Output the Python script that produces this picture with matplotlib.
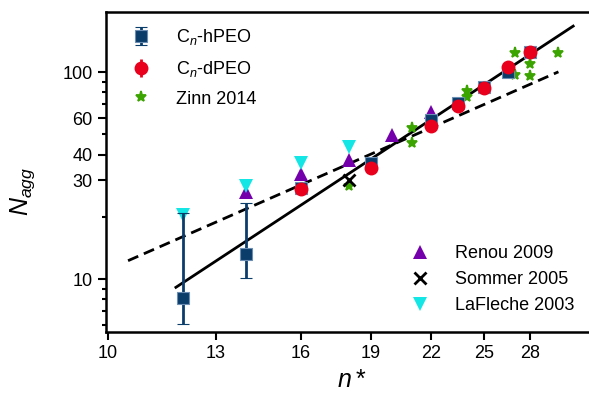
import matplotlib
matplotlib.use("Agg")
import matplotlib.pyplot as plt
import numpy as np

plt.rcParams['font.family'] = ['Liberation Sans', 'DejaVu Sans']
plt.rcParams['mathtext.fontset'] = 'custom'
plt.rcParams['mathtext.rm'] = 'Liberation Sans'
plt.rcParams['mathtext.it'] = 'Liberation Sans:italic'

# C_n-hPEO (this work, hydrogenated)
hpeo_n = [12, 14, 16, 19, 22, 23.5, 25, 26.5, 28]
hpeo_N = [8.1, 13.2, 27.5, 36.3, 58.7, 70.6, 84.9, 100, 125]
hpeo_err_lo = [2.0, 3.0, 0, 0, 0, 0, 0, 0, 0]
hpeo_err_hi = [12.8, 10.2, 0, 0, 0, 0, 0, 0, 0]

# C_n-dPEO (deuterated)
dpeo_n = [16, 19, 22, 23.5, 25, 26.5, 28]
dpeo_N = [27.2, 34.4, 55, 68.5, 83.6, 106, 125]
dpeo_err = [0, 0, 0, 0, 0, 0, 0]

zinn_n = [18, 21, 21, 24, 24, 27, 27, 28, 28, 30]
zinn_N = [28.2, 53.6, 45.6, 81, 76, 123, 96.6, 109, 96, 123]

renou_n = [14, 16, 18, 20, 22]
renou_N = [26.3, 32.1, 37.6, 49.6, 64.3]

sommer_n = [18]
sommer_N = [30.1]

lafleche_n = [12, 14, 16, 18]
lafleche_N = [20.4, 28.2, 36.3, 43.6]

# guide lines (power laws, straight in log-log), end points
solid_n = [11.8, 31.1]
solid_N = [9.15, 166.7]
dashed_n = [10.5, 30]
dashed_N = [12.3, 100.3]

xticks = [10, 13, 16, 19, 22, 25, 28]
yticks = [10, 30, 40, 60, 100]
yminor = [6, 7, 8, 9, 20, 50, 70, 80, 90]

navy = '#0b3d6b'
red = '#e8001c'
green = '#3ca400'
purple = '#7400ab'
cyan = '#14e6e6'

W, H = 589, 399
fig = plt.figure(figsize=(W/100, H/100), dpi=100)
ax = fig.add_axes([106/W, 1-332/H, 491.5/W, 320/H])
ax.set_xscale('log')
ax.set_yscale('log')

ax.plot(solid_n, solid_N, '-', c='k', lw=2, zorder=1)
ax.plot(dashed_n, dashed_N, '--', c='k', lw=2, dashes=(4, 2.2), zorder=1)

h1 = ax.errorbar(hpeo_n, hpeo_N, yerr=[hpeo_err_lo, hpeo_err_hi], fmt='s', c=navy,
                 ms=9, mec='#6a8db3', mew=0.8, capsize=4.5, capthick=2, elinewidth=2,
                 label=r'C$_n$-hPEO', zorder=3)
h2 = ax.errorbar(dpeo_n, dpeo_N, yerr=dpeo_err, fmt='o', c=red, ms=10, mew=0,
                 capsize=4.5, capthick=2, elinewidth=2, label=r'C$_n$-dPEO', zorder=4)
h3, = ax.plot(zinn_n, zinn_N, '*', c=green, ms=8, mew=1.3, mec=green, ls='none',
              label='Zinn 2014', zorder=2.5)
h4, = ax.plot(renou_n, renou_N, '^', c=purple, ms=10, mew=0, ls='none',
              label='Renou 2009', zorder=2.6)
h5, = ax.plot(sommer_n, sommer_N, 'x', c='k', ms=8, mew=2, ls='none',
              label='Sommer 2005', zorder=2.8)
h6, = ax.plot(lafleche_n, lafleche_N, 'v', c=cyan, ms=10, mew=0, ls='none',
              label='LaFleche 2003', zorder=2.7)

ax.set_xlim(9.95, 33)
ax.set_ylim(5.57, 195)
ax.xaxis.set_major_locator(matplotlib.ticker.FixedLocator(xticks))
ax.xaxis.set_minor_locator(matplotlib.ticker.NullLocator())
ax.set_xticklabels([str(t) for t in xticks])
ax.yaxis.set_major_locator(matplotlib.ticker.FixedLocator(yticks))
ax.yaxis.set_minor_locator(matplotlib.ticker.FixedLocator(yminor))
ax.set_yticklabels([str(t) for t in yticks])
ax.yaxis.set_minor_formatter(matplotlib.ticker.NullFormatter())
ax.tick_params(which='major', direction='out', length=6, width=1.5, labelsize=13)
ax.tick_params(which='minor', direction='out', length=3, width=1.5)
ax.tick_params(top=False, right=False)
for s in ax.spines.values():
    s.set_linewidth(1.8)
ax.spines['right'].set_visible(False)

ax.set_xlabel(r'$n*$', fontsize=18)
ax.set_ylabel(r'$N_{agg}$', fontsize=18)
ax.yaxis.set_label_coords(-0.14, 0.44)

leg1 = ax.legend(handles=[h1, h2, h3], loc='upper left', frameon=False, fontsize=13,
                 bbox_to_anchor=(116/W, 1-20/H), bbox_transform=fig.transFigure,
                 borderaxespad=0, handletextpad=0.9, labelspacing=0.65)
ax.add_artist(leg1)
ax.legend(handles=[h4, h5, h6], loc='upper left', frameon=False, fontsize=13,
          bbox_to_anchor=(395/W, 1-238/H), bbox_transform=fig.transFigure,
          borderaxespad=0, handletextpad=0.9, labelspacing=0.5)

plt.savefig('out.png', dpi=100)
